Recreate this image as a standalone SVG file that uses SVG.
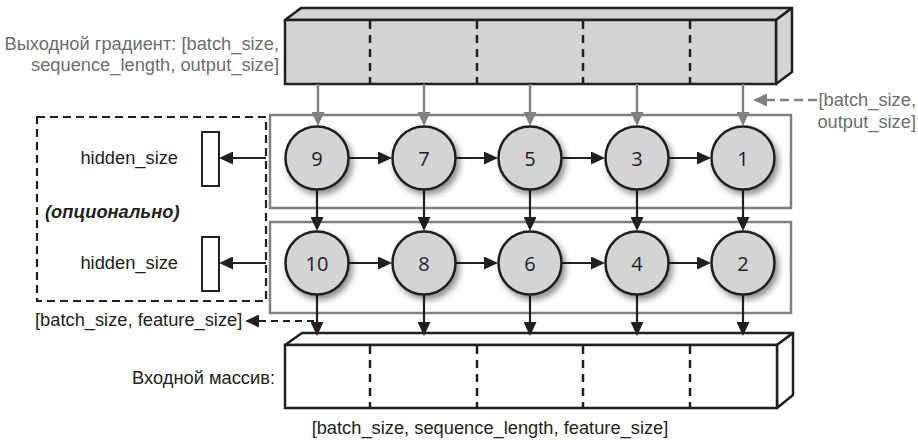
<svg xmlns="http://www.w3.org/2000/svg" width="918" height="441" viewBox="0 0 918 441">
<style>
.lbl{font-family:"Liberation Sans",Arial,sans-serif;font-size:18.3px;fill:#231f20}
.glbl{font-family:"Liberation Sans",Arial,sans-serif;font-size:18.3px;fill:#6d6e71}
.num{font-family:"Open Sans","Noto Sans",sans-serif;font-size:20px;fill:#231f20;text-anchor:middle;dominant-baseline:central}
.node{fill:#d1d3d4;stroke:#231f20;stroke-width:2.5;filter:url(#sh)}
.blk{stroke:#231f20;stroke-width:2.2;fill:none;marker-end:url(#ab)}
.gry{stroke:#808080;stroke-width:2.4;fill:none;marker-end:url(#ag)}
.dv{stroke:#231f20;stroke-width:2.5;stroke-dasharray:8,6}
.row{fill:#fff;stroke:#808080;stroke-width:2.5}
</style>
<defs>
<filter id="sh" x="-30%" y="-30%" width="170%" height="170%">
<feDropShadow dx="3" dy="4" stdDeviation="3" flood-color="#000" flood-opacity="0.45"/>
</filter>
<marker id="ab" viewBox="0 0 14 13" markerUnits="userSpaceOnUse" markerWidth="14" markerHeight="13" refX="10" refY="6.5" orient="auto">
<path d="M0,0 L14,6.5 L0,13 z" fill="#231f20"/>
</marker>
<marker id="ag" viewBox="0 0 14 13" markerUnits="userSpaceOnUse" markerWidth="14" markerHeight="13" refX="10" refY="6.5" orient="auto">
<path d="M0,0 L14,6.5 L0,13 z" fill="#808080"/>
</marker>
</defs>

<g id="output-tensor">
<polygon points="285,20 301,8 792,8 776,20" fill="#d1d3d4" stroke="#231f20" stroke-width="2.5" stroke-linejoin="round"/>
<polygon points="776,20 792,8 792,72 776,84" fill="#d1d3d4" stroke="#231f20" stroke-width="2.5" stroke-linejoin="round"/>
<rect x="285" y="20" width="491" height="64" fill="#d1d3d4" stroke="#231f20" stroke-width="2.5"/>
<line class="dv" x1="370" y1="21" x2="370" y2="83"/>
<line class="dv" x1="477" y1="21" x2="477" y2="83"/>
<line class="dv" x1="583" y1="21" x2="583" y2="83"/>
<line class="dv" x1="690" y1="21" x2="690" y2="83"/>
</g>
<g id="output-label">
<text class="glbl" x="279" y="50" text-anchor="end">Выходной градиент: [batch_size,</text>
<text class="glbl" x="279" y="71" text-anchor="end">sequence_length, output_size]</text>
</g>
<g id="step-label">
<text class="glbl" x="916" y="106" text-anchor="end">[batch_size,</text>
<text class="glbl" x="916" y="128" text-anchor="end">output_size]</text>
</g>

<g id="layer1"><rect class="row" x="270" y="115" width="521" height="93"/></g>
<g id="layer2"><rect class="row" x="270" y="222" width="521" height="91"/></g>

<g id="optional-box">
<rect x="37" y="117" width="229" height="184" fill="none" stroke="#231f20" stroke-width="2.2" stroke-dasharray="8,5"/>
<text class="lbl" x="178" y="164" text-anchor="end">hidden_size</text>
<text class="lbl" x="45" y="218" font-weight="bold" font-style="italic">(опционально)</text>
<text class="lbl" x="178" y="269" text-anchor="end">hidden_size</text>
</g>
<g id="hidden1"><rect x="202" y="132" width="17" height="54" fill="#fff" stroke="#231f20" stroke-width="2"/></g>
<g id="hidden2"><rect x="202" y="237" width="17" height="54" fill="#fff" stroke="#231f20" stroke-width="2"/></g>

<g id="input-tensor">
<polygon points="285,345 302,333 793,333 777,345" fill="#fff" stroke="#231f20" stroke-width="2.5" stroke-linejoin="round"/>
<polygon points="777,345 793,333 793,395 777,408" fill="#fff" stroke="#231f20" stroke-width="2.5" stroke-linejoin="round"/>
<rect x="285" y="345" width="492" height="63" fill="#fff" stroke="#231f20" stroke-width="2.5"/>
<line class="dv" x1="370" y1="346" x2="370" y2="407"/>
<line class="dv" x1="477" y1="346" x2="477" y2="407"/>
<line class="dv" x1="583" y1="346" x2="583" y2="407"/>
<line class="dv" x1="690" y1="346" x2="690" y2="407"/>
</g>
<g id="input-label">
<text class="lbl" x="275" y="384" text-anchor="end">Входной массив:</text>
<text class="lbl" x="490" y="434" text-anchor="middle">[batch_size, sequence_length, feature_size]</text>
</g>
<g id="feature-label">
<text class="lbl" x="35" y="326">[batch_size, feature_size]</text>
</g>

<g id="connectors">
<line class="gry" x1="318" y1="84" x2="318" y2="122"/>
<line class="gry" x1="424" y1="84" x2="424" y2="122"/>
<line class="gry" x1="530" y1="84" x2="530" y2="122"/>
<line class="gry" x1="637" y1="84" x2="637" y2="122"/>
<line class="gry" x1="743" y1="84" x2="743" y2="122"/>
<line class="gry" x1="817" y1="100" x2="757" y2="100" stroke-dasharray="9,5"/>
<line class="blk" x1="349" y1="158" x2="388" y2="158"/>
<line class="blk" x1="455" y1="158" x2="494" y2="158"/>
<line class="blk" x1="562" y1="158" x2="601" y2="158"/>
<line class="blk" x1="668" y1="158" x2="707" y2="158"/>
<line class="blk" x1="349" y1="263" x2="388" y2="263"/>
<line class="blk" x1="455" y1="263" x2="494" y2="263"/>
<line class="blk" x1="562" y1="263" x2="601" y2="263"/>
<line class="blk" x1="668" y1="263" x2="707" y2="263"/>
<line class="blk" x1="317" y1="190" x2="317" y2="227"/>
<line class="blk" x1="424" y1="190" x2="424" y2="227"/>
<line class="blk" x1="530" y1="190" x2="530" y2="227"/>
<line class="blk" x1="637" y1="190" x2="637" y2="227"/>
<line class="blk" x1="743" y1="190" x2="743" y2="227"/>
<line class="blk" x1="317" y1="295" x2="317" y2="332"/>
<line class="blk" x1="424" y1="295" x2="424" y2="332"/>
<line class="blk" x1="530" y1="295" x2="530" y2="332"/>
<line class="blk" x1="637" y1="295" x2="637" y2="332"/>
<line class="blk" x1="743" y1="295" x2="743" y2="332"/>
<line class="blk" x1="266" y1="158" x2="223" y2="158"/>
<line class="blk" x1="266" y1="263" x2="223" y2="263"/>
<line class="blk" x1="314" y1="321" x2="249" y2="321" stroke-dasharray="7,5"/>
</g>

<g id="n9"><circle class="node" cx="317" cy="158" r="31.5"/><text class="num" x="317" y="158">9</text></g>
<g id="n7"><circle class="node" cx="424" cy="158" r="31.5"/><text class="num" x="424" y="158">7</text></g>
<g id="n5"><circle class="node" cx="530" cy="158" r="31.5"/><text class="num" x="530" y="158">5</text></g>
<g id="n3"><circle class="node" cx="637" cy="158" r="31.5"/><text class="num" x="637" y="158">3</text></g>
<g id="n1"><circle class="node" cx="743" cy="158" r="31.5"/><text class="num" x="743" y="158">1</text></g>
<g id="n10"><circle class="node" cx="317" cy="263" r="31.5"/><text class="num" x="317" y="263">10</text></g>
<g id="n8"><circle class="node" cx="424" cy="263" r="31.5"/><text class="num" x="424" y="263">8</text></g>
<g id="n6"><circle class="node" cx="530" cy="263" r="31.5"/><text class="num" x="530" y="263">6</text></g>
<g id="n4"><circle class="node" cx="637" cy="263" r="31.5"/><text class="num" x="637" y="263">4</text></g>
<g id="n2"><circle class="node" cx="743" cy="263" r="31.5"/><text class="num" x="743" y="263">2</text></g>
</svg>
